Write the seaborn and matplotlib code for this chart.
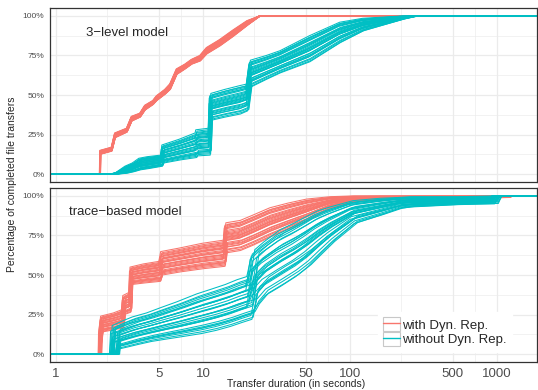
import numpy as np
import pandas as pd
import matplotlib
matplotlib.use('Agg')
import matplotlib.pyplot as plt
import seaborn as sns
from matplotlib.patches import Rectangle
from matplotlib.lines import Line2D
from matplotlib.ticker import FixedLocator, NullFormatter

# ---- data (transfer duration in s, % completed) ----
# each group: breakpoints with the lower / upper edge of the bundle of runs

top_red_x = [0.9, 1.99, 2.0, 2.39, 2.52, 3.03, 3.27, 3.73, 4.03, 4.57, 4.84, 5.51,
             5.97, 6.62, 7.55, 8.37, 9.55, 10.6, 13.0, 16.0, 20.0, 24.4, 2000]
top_red_lo = [0, 0, 12.5, 14.5, 23, 26.5, 33.5, 36, 40.5, 44, 46.5, 50.5,
              53.5, 63, 66.5, 69.5, 71.5, 76, 81, 87, 94, 100, 100]
top_red_hi = [0, 0, 15, 17, 26, 29, 36.5, 38.5, 43.5, 46.5, 49.5, 53.5,
              57, 66.5, 69.5, 72.5, 75, 80, 85, 91, 97, 100, 100]

top_cyan_x = [0.9, 2.39, 2.6, 3.0, 3.36, 3.73, 4.25, 5.25, 5.35, 7.0, 9.0, 9.1, 11.1,
              11.3, 14.0, 17.9, 20.0, 21.0, 27.0, 33.4, 53, 85, 122, 230, 285, 2000]
top_cyan_lo = [0, 0, 0, 0.5, 1.5, 2.7, 3.5, 5, 7, 9, 10.5, 11.5, 12,
               34, 36, 38, 40, 55, 60, 64, 71, 83, 90.5, 98, 100, 100]
top_cyan_hi = [0, 0, 1, 5, 7, 10, 11, 12, 18.4, 22, 26, 28, 29,
               51, 53.5, 56, 57, 72, 75, 78, 87.5, 96, 98.5, 100, 100, 100]

bot_red_x = [0.9, 1.99, 2.0, 2.05, 2.5, 2.85, 2.9, 3.2, 3.25, 4.0, 5.1, 5.25, 7.0, 10.0,
             14.0, 14.3, 17.9, 22.0, 28.5, 38.0, 50.6, 73, 105, 160, 255, 600, 1200, 1250, 2000]
bot_red_lo = [0, 0, 5, 14, 15.5, 16.5, 25, 26.5, 44, 45, 46, 50, 52, 54,
              55.5, 64, 65.5, 69, 74, 79, 84, 92, 96, 97.5, 98, 98.5, 99, 100, 100]
bot_red_hi = [0, 0, 15, 24, 26, 28, 37, 39, 55, 57, 58.6, 64.8, 67, 70,
              72, 83, 84.5, 88, 92.5, 95.5, 98, 99.5, 100, 100, 100, 100, 100, 100, 100]

bot_cyan_x = [0.9, 2.5, 2.55, 3.0, 3.5, 4.36, 5.5, 7.0, 9.55, 12.0, 15.0, 18.0, 21.0, 22.5,
              26.0, 33.4, 42.0, 50.6, 60.0, 73, 105, 160, 212, 255, 540, 950, 1000, 2000]
bot_cyan_lo = [0, 0, 3, 4.5, 6, 8, 9.5, 11, 13, 15, 17.5, 20, 22, 30,
               37, 43, 49, 55, 62, 70, 82.5, 88, 92, 93, 94.5, 95, 100, 100]
bot_cyan_hi = [0, 0, 18, 21, 23.5, 26, 29.5, 33, 38, 41, 44, 47, 49, 66,
               71, 78.5, 83, 87, 90.5, 93, 97, 98.5, 99, 99.5, 99.5, 100, 100, 100]

# position of each of the 30 runs inside the bundle (early / late part) and its shift
run_w_early = [0.00, 0.52, 0.18, 0.87, 0.35, 0.66, 0.09, 0.74, 0.43, 0.95, 0.27, 0.58, 0.13, 0.81, 0.47,
               0.69, 0.31, 1.00, 0.22, 0.61, 0.05, 0.77, 0.39, 0.90, 0.15, 0.55, 0.84, 0.29, 0.71, 0.44]
run_w_late = [0.12, 0.60, 0.05, 0.70, 0.48, 0.83, 0.20, 0.55, 0.30, 1.00, 0.40, 0.75, 0.00, 0.92, 0.35,
              0.50, 0.45, 0.88, 0.10, 0.66, 0.25, 0.62, 0.58, 0.80, 0.28, 0.42, 0.95, 0.18, 0.85, 0.52]
run_shift = [0.3, -0.6, 0.9, -0.2, 0.5, -0.9, 0.1, 0.7, -0.4, 0.0, -0.8, 0.6, 0.2, -0.5, 1.0,
             -0.1, 0.4, -0.7, 0.8, -0.3, 0.55, -1.0, 0.25, -0.45, 0.65, -0.15, 0.85, -0.65, 0.35, -0.25]

groups = ['with Dyn. Rep.', 'without Dyn. Rep.']
panel_labels = ['3\u2212level model', 'trace\u2212based model']
x_breaks = [1, 5, 10, 50, 100, 500, 1000]
y_breaks = [0, 0.25, 0.5, 0.75, 1.0]


def build_runs(panel, group, xs, lo, hi, pivot, mag):
    xs = np.array(xs, float)
    lo = np.array(lo, float)
    hi = np.array(hi, float)
    rows = []
    for r in range(len(run_w_early)):
        w = np.where(xs < pivot, run_w_early[r], run_w_late[r])
        y = np.maximum.accumulate(lo + (hi - lo) * w) / 100
        xr = xs * 10 ** (run_shift[r] * mag)
        xr[0], xr[-1] = xs[0], xs[-1]
        for a, b in zip(xr, y):
            rows.append((panel, group, r, a, b))
    return rows


rows = []
rows += build_runs(0, groups[0], top_red_x, top_red_lo, top_red_hi, 1e9, 0.004)
rows += build_runs(0, groups[1], top_cyan_x, top_cyan_lo, top_cyan_hi, 11.2, 0.012)
rows += build_runs(1, groups[0], bot_red_x, bot_red_lo, bot_red_hi, 14.1, 0.012)
rows += build_runs(1, groups[1], bot_cyan_x, bot_cyan_lo, bot_cyan_hi, 22.0, 0.035)
df = pd.DataFrame(rows, columns=['panel', 'group', 'run', 'duration', 'frac'])

sns.set_style('white')
plt.rcParams['font.family'] = ['Liberation Sans', 'DejaVu Sans']

palette = {groups[0]: '#F8766D', groups[1]: '#00BFC4'}

fig = plt.figure(figsize=(5.38, 3.9), dpi=100)
ax_top = fig.add_axes([50 / 538, 1 - 182 / 390, 487 / 538, 174 / 390])
ax_bot = fig.add_axes([50 / 538, 1 - 362 / 390, 487 / 538, 174 / 390])

for i, ax in enumerate([ax_top, ax_bot]):
    sns.lineplot(data=df[df.panel == i], x='duration', y='frac', hue='group',
                 hue_order=groups, palette=palette, units='run', estimator=None,
                 sort=False, legend=False, lw=0.75, ax=ax)
    ax.set_xscale('log')
    ax.set_xlim(0.91, 1871)
    ax.set_ylim(-0.05, 1.05)
    ax.xaxis.set_major_locator(FixedLocator(x_breaks))
    ax.xaxis.set_minor_locator(FixedLocator([np.sqrt(a * b) for a, b in zip(x_breaks[:-1], x_breaks[1:])]))
    ax.xaxis.set_minor_formatter(NullFormatter())
    ax.set_xticklabels([str(v) for v in x_breaks])
    ax.yaxis.set_major_locator(FixedLocator(y_breaks))
    ax.yaxis.set_minor_locator(FixedLocator([0.125, 0.375, 0.625, 0.875]))
    ax.set_yticklabels(['%d%%' % (v * 100) for v in y_breaks])
    ax.grid(which='major', color='#EBEBEB', lw=0.9)
    ax.grid(which='minor', color='#EBEBEB', lw=0.45)
    ax.set_axisbelow(True)
    ax.tick_params(which='minor', length=0)
    ax.tick_params(axis='y', which='major', length=2.5, width=0.6, color='#333333',
                   labelsize=6, labelcolor='#4D4D4D', pad=1.5)
    ax.tick_params(axis='x', which='major', length=2.5, width=0.6, color='#333333',
                   labelsize=9.5, labelcolor='#4D4D4D', pad=1.5)
    for s in ax.spines.values():
        s.set_color('#333333')
        s.set_linewidth(0.9)
    ax.set_xlabel('')
    ax.set_ylabel('')

ax_top.tick_params(axis='x', which='major', length=0, labelbottom=False)
ax_top.text(0.074, 0.854, panel_labels[0], transform=ax_top.transAxes,
            fontsize=9.5, ha='left', va='center')
ax_bot.text(0.039, 0.864, panel_labels[1], transform=ax_bot.transAxes,
            fontsize=9.5, ha='left', va='center')

fig.text(296.5 / 538, 1 - 384 / 390, 'Transfer duration (in seconds)',
         ha='center', va='center', fontsize=7.5)
fig.text(12 / 538, 1 - 184 / 390, 'Percentage of completed file transfers',
         ha='center', va='center', rotation=90, fontsize=7.5)

handles = [(Rectangle((0, 0), 1, 1, fc='white', ec='#C8C8C8', lw=0.8),
            Line2D([], [], color=palette[g], lw=1.0)) for g in groups]
leg = ax_bot.legend(handles, groups, loc='lower left', bbox_to_anchor=(0.673, 0.06),
                    borderaxespad=0, frameon=True, fancybox=False, edgecolor='white',
                    framealpha=1, fontsize=9.5, handlelength=1.3, handleheight=1.25,
                    labelspacing=0, handletextpad=0.12, borderpad=0.4)

fig.savefig('out.png', dpi=100)
